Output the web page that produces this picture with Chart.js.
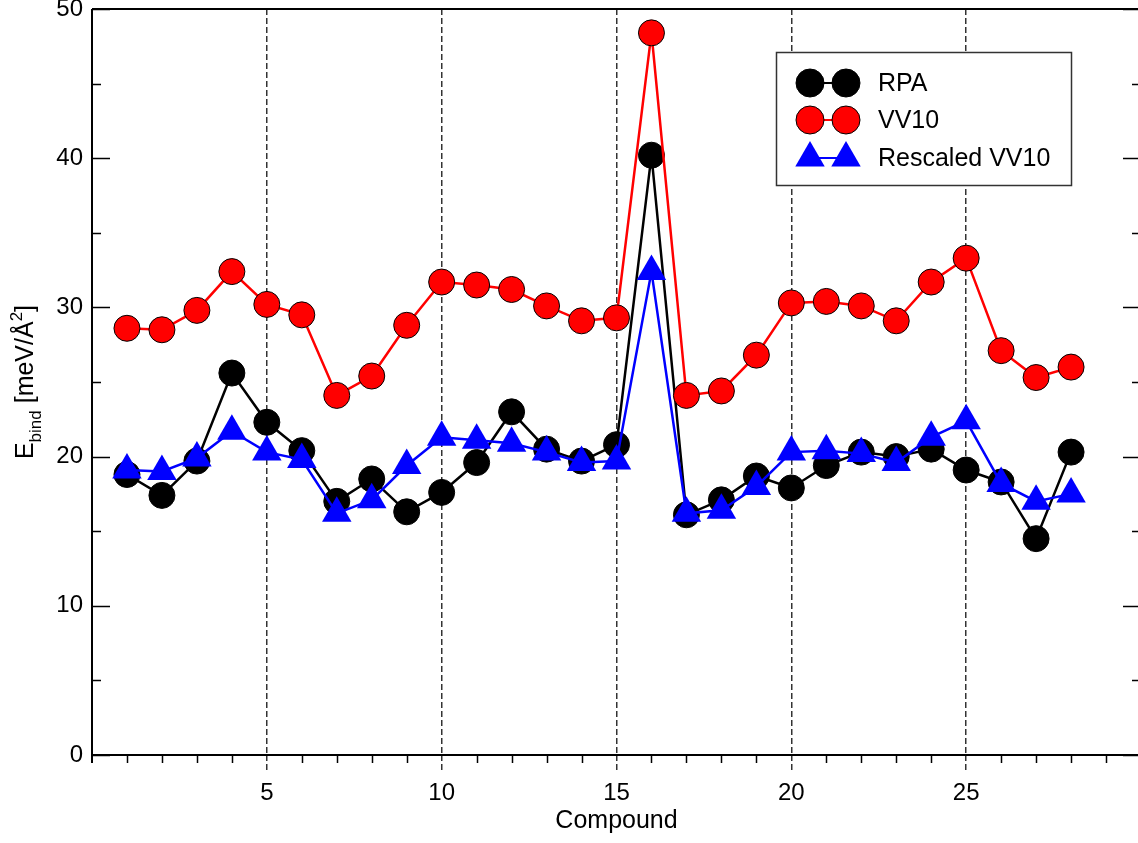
<!DOCTYPE html>
<html>
<head>
<meta charset="utf-8">
<script src="https://cdn.jsdelivr.net/npm/chart.js@4.4.0/dist/chart.umd.min.js"></script>
<style>
html, body { margin: 0; padding: 0; background: #fff; overflow: hidden; }
#wrap { width: 1142px; height: 843px; }
</style>
</head>
<body>
<div id="wrap"><canvas id="chart" width="1142" height="843"></canvas></div>
<script>
const compounds = [1, 2, 3, 4, 5, 6, 7, 8, 9, 10, 11, 12, 13, 14, 15, 16, 17, 18, 19, 20, 21, 22, 23, 24, 25, 26, 27, 28];
const rpa = [18.8, 17.4, 19.7, 25.6, 22.3, 20.4, 17.0, 18.5, 16.3, 17.6, 19.6, 23.0, 20.5, 19.7, 20.8, 40.2, 16.1, 17.1, 18.7, 17.9, 19.4, 20.3, 20.0, 20.5, 19.1, 18.3, 14.5, 20.3];
const vv10 = [28.6, 28.5, 29.8, 32.4, 30.2, 29.5, 24.1, 25.4, 28.8, 31.7, 31.5, 31.2, 30.1, 29.1, 29.3, 48.4, 24.1, 24.4, 26.8, 30.3, 30.4, 30.1, 29.1, 31.7, 33.3, 27.1, 25.3, 26.0];
const rescaled = [19.1, 19.0, 19.9, 21.7, 20.3, 19.8, 16.2, 17.1, 19.4, 21.3, 21.1, 20.9, 20.3, 19.6, 19.7, 32.4, 16.2, 16.4, 18.0, 20.3, 20.4, 20.2, 19.6, 21.3, 22.4, 18.2, 17.0, 17.5];
const seriesNames = ["RPA", "VV10", "Rescaled VV10"];
const xRange = [0, 30];
const yRange = [0, 50];

const FONT = "'Liberation Sans', Arial, sans-serif";

function pts(values) {
    return compounds.map((c, i) => ({ x: c, y: values[i] }));
}

function drawMarker(ctx, style, r, x, y, fill, stroke, bw) {
    ctx.beginPath();
    if (style === "triangle") {
        let a = 0;
        ctx.moveTo(x + Math.sin(a) * r, y - Math.cos(a) * r);
        a += Math.PI * 2 / 3;
        ctx.lineTo(x + Math.sin(a) * r, y - Math.cos(a) * r);
        a += Math.PI * 2 / 3;
        ctx.lineTo(x + Math.sin(a) * r, y - Math.cos(a) * r);
        ctx.closePath();
    } else {
        ctx.arc(x, y, r, 0, Math.PI * 2);
    }
    ctx.fillStyle = fill;
    ctx.fill();
    if (bw > 0) {
        ctx.lineWidth = bw;
        ctx.strokeStyle = stroke;
        ctx.stroke();
    }
}

const framePlugin = {
    id: "frame",
    afterDraw(chart) {
        const ctx = chart.ctx;
        const a = chart.chartArea;
        const xs = chart.scales.x;
        const ys = chart.scales.y;
        ctx.save();
        ctx.strokeStyle = "#000";
        ctx.lineWidth = 2;
        ctx.lineCap = "butt";
        ctx.beginPath();
        // axes box
        ctx.moveTo(a.left, a.top); ctx.lineTo(a.right, a.top);
        ctx.moveTo(a.left, a.top); ctx.lineTo(a.left, a.bottom + 8);
        ctx.moveTo(a.left, a.bottom); ctx.lineTo(a.right, a.bottom);
        ctx.moveTo(a.right, a.top); ctx.lineTo(a.right, a.bottom);
        ctx.stroke();

        ctx.lineWidth = 1.5;
        ctx.beginPath();
        // minor x ticks, pointing down
        for (let v = xRange[0] + 1; v < xRange[1]; v++) {
            if (v % 5 === 0) continue;
            const px = Math.round(xs.getPixelForValue(v)) + 0.5;
            ctx.moveTo(px, a.bottom); ctx.lineTo(px, a.bottom + 8);
        }
        // y ticks, pointing in, mirrored on the right
        for (let v = yRange[0]; v <= yRange[1]; v += 5) {
            const py = Math.round(ys.getPixelForValue(v)) + 0.5;
            const len = v % 10 === 0 ? 18 : 9;
            ctx.moveTo(a.left, py); ctx.lineTo(a.left + len, py);
            ctx.moveTo(a.right, py); ctx.lineTo(a.right - len, py);
        }
        ctx.stroke();

        // y axis title with subscript / superscript
        const cy = (a.top + a.bottom) / 2;
        const pieces = [["E", 25, 0], ["bind", 17, 8], [" [meV/Å", 25, 0], ["2", 17, -11], ["]", 25, 0]];
        let total = 0;
        pieces.forEach(p => {
            ctx.font = p[1] + "px " + FONT;
            p.w = ctx.measureText(p[0]).width;
            total += p.w;
        });
        ctx.translate(33, cy);
        ctx.rotate(-Math.PI / 2);
        ctx.fillStyle = "#000";
        ctx.textAlign = "left";
        ctx.textBaseline = "alphabetic";
        let tx = -total / 2;
        pieces.forEach(p => {
            ctx.font = p[1] + "px " + FONT;
            ctx.fillText(p[0], tx, p[2]);
            tx += p.w;
        });
        ctx.restore();

        // legend
        ctx.save();
        ctx.fillStyle = "#fff";
        ctx.fillRect(776, 52, 295, 133);
        ctx.strokeStyle = "#333";
        ctx.lineWidth = 1.5;
        ctx.strokeRect(776.5, 52.5, 295, 133);
        const rows = [83, 120, 158];
        chart.data.datasets.forEach((ds, i) => {
            const y = rows[i];
            ctx.strokeStyle = ds.borderColor;
            ctx.lineWidth = 2;
            ctx.beginPath();
            ctx.moveTo(810, y); ctx.lineTo(846, y);
            ctx.stroke();
            [810, 846].forEach(mx => {
                drawMarker(ctx, ds.pointStyle, ds.pointRadius + (ds.pointStyle === "triangle" ? 0 : 1), mx, y,
                    ds.pointBackgroundColor, ds.pointBorderColor, ds.pointBorderWidth);
            });
            ctx.fillStyle = "#000";
            ctx.font = "25px " + FONT;
            ctx.textAlign = "left";
            ctx.textBaseline = "middle";
            ctx.fillText(ds.label, 878, y + 1);
        });
        ctx.restore();
    }
};

const ctx = document.getElementById("chart").getContext("2d");

new Chart(ctx, {
    type: "line",
    data: {
        datasets: [
            {
                label: seriesNames[0],
                data: pts(rpa),
                borderColor: "#000000",
                borderWidth: 2.5,
                pointStyle: "circle",
                pointRadius: 13,
                pointBackgroundColor: "#000000",
                pointBorderColor: "#000000",
                pointBorderWidth: 1,
                order: 3
            },
            {
                label: seriesNames[1],
                data: pts(vv10),
                borderColor: "#ff0000",
                borderWidth: 2.5,
                pointStyle: "circle",
                pointRadius: 13,
                pointBackgroundColor: "#ff0000",
                pointBorderColor: "#000000",
                pointBorderWidth: 1,
                order: 2
            },
            {
                label: seriesNames[2],
                data: pts(rescaled),
                borderColor: "#0000ff",
                borderWidth: 2.5,
                pointStyle: "triangle",
                pointRadius: 17,
                pointBackgroundColor: "#0000ff",
                pointBorderColor: "#0000ff",
                pointBorderWidth: 0,
                order: 1
            }
        ]
    },
    options: {
        responsive: false,
        animation: false,
        devicePixelRatio: 1,
        layout: { autoPadding: false, padding: { top: 9, right: 1, left: 0, bottom: 0 } },
        plugins: {
            legend: { display: false },
            tooltip: { enabled: false }
        },
        elements: { line: { tension: 0 } },
        scales: {
            x: {
                type: "linear",
                min: xRange[0],
                max: xRange[1],
                afterFit(scale) {
                    scale.height = 88;
                    scale.paddingLeft = 0;
                    scale.paddingRight = 0;
                },
                ticks: {
                    stepSize: 5,
                    padding: 6,
                    color: "#000",
                    font: { family: FONT, size: 24 },
                    callback: v => (v > xRange[0] && v < xRange[1]) ? String(v) : ""
                },
                grid: {
                    drawTicks: true,
                    tickLength: 18,
                    lineWidth: 1.5,
                    color: c => (c.tick && c.tick.value > xRange[0] && c.tick.value < xRange[1]) ? "#333" : "rgba(0,0,0,0)",
                    tickColor: c => (c.tick && c.tick.value > xRange[0] && c.tick.value < xRange[1]) ? "#333" : "rgba(0,0,0,0)",
                    tickWidth: 1.5,
                    tickBorderDash: [6, 3]
                },
                border: { display: false, dash: [6, 3] },
                title: {
                    display: true,
                    text: "Compound",
                    color: "#000",
                    font: { family: FONT, size: 25 },
                    padding: { top: 0, bottom: 7 }
                }
            },
            y: {
                type: "linear",
                min: yRange[0],
                max: yRange[1],
                afterFit(scale) {
                    scale.width = 92;
                    scale.paddingTop = 0;
                    scale.paddingBottom = 0;
                },
                ticks: {
                    stepSize: 10,
                    padding: 9,
                    color: "#000",
                    font: { family: FONT, size: 24 }
                },
                grid: { display: false, drawTicks: false },
                border: { display: false }
            }
        }
    },
    plugins: [framePlugin]
});
</script>
</body>
</html>
